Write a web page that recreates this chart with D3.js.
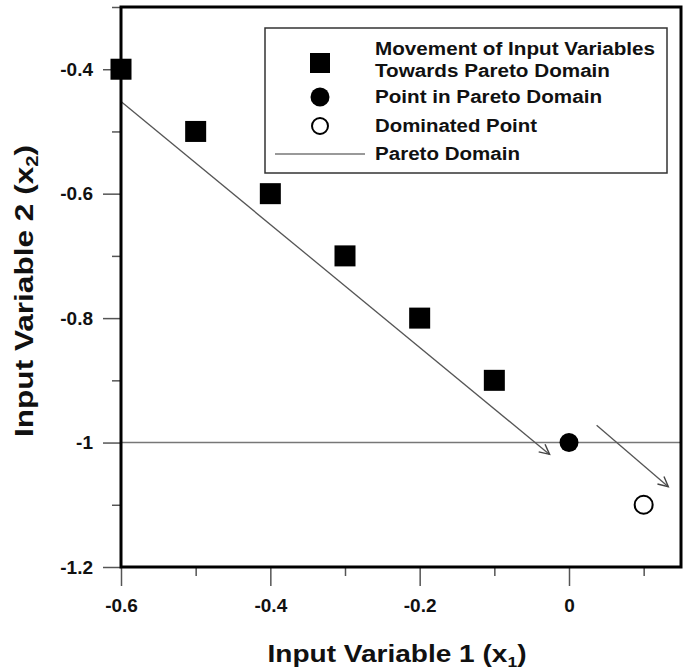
<!DOCTYPE html>
<html>
<head>
<meta charset="utf-8">
<script src="https://cdn.jsdelivr.net/npm/d3@7"></script>
<style>
  html, body { margin: 0; padding: 0; background: #fff; }
  svg { display: block; font-family: "Liberation Sans", Arial, sans-serif; }
</style>
</head>
<body>
<svg id="chart" width="683" height="672"></svg>
<script>
// ---- data ----
const movementX = [-0.6, -0.5, -0.4, -0.3, -0.2, -0.1];
const movementY = [-0.4, -0.5, -0.6, -0.7, -0.8, -0.9];
const paretoPointX = [0];
const paretoPointY = [-1];
const dominatedX = [0.1];
const dominatedY = [-1.1];
const paretoDomainY = -1;
const arrowStartX = [-0.6, 0.037];
const arrowStartY = [-0.452, -0.972];
const arrowEndX = [-0.026, 0.133];
const arrowEndY = [-1.019, -1.071];
const xMajorTicks = [-0.6, -0.4, -0.2, 0];
const xMinorTicks = [-0.5, -0.3, -0.1, 0.1];
const xTickLabels = ["-0.6", "-0.4", "-0.2", "0"];
const yMajorTicks = [-0.4, -0.6, -0.8, -1, -1.2];
const yMinorTicks = [-0.3, -0.5, -0.7, -0.9, -1.1];
const yTickLabels = ["-0.4", "-0.6", "-0.8", "-1", "-1.2"];
const legendLabels = [["Movement of Input Variables", "Towards Pareto Domain"], ["Point in Pareto Domain"], ["Dominated Point"], ["Pareto Domain"]];

// ---- layout ----
const margin = {left: 121, top: 7};
const W = 560, H = 560;
const svg = d3.select("#chart");
const g = svg.append("g").attr("transform", `translate(${margin.left},${margin.top})`);

const x = d3.scaleLinear().domain([-0.6, 0.15]).range([0, W]);
const y = d3.scaleLinear().domain([-1.2, -0.3]).range([H, 0]);

const tickColor = "#555";

// minor ticks
g.append("g").attr("transform", `translate(0,${H})`)
  .call(d3.axisBottom(x).tickValues(xMinorTicks).tickSize(9).tickFormat(""))
  .call(a => { a.select(".domain").remove(); a.selectAll("line").attr("stroke", tickColor).attr("stroke-width", 1.5); });
g.append("g")
  .call(d3.axisLeft(y).tickValues(yMinorTicks).tickSize(9).tickFormat(""))
  .call(a => { a.select(".domain").remove(); a.selectAll("line").attr("stroke", tickColor).attr("stroke-width", 1.5); });

// major ticks
g.append("g").attr("transform", `translate(0,${H})`)
  .call(d3.axisBottom(x).tickValues(xMajorTicks).tickSize(19).tickPadding(13)
        .tickFormat((d, i) => xTickLabels[i]))
  .call(a => {
    a.select(".domain").remove();
    a.selectAll("line").attr("stroke", tickColor).attr("stroke-width", 1.5);
    a.selectAll("text").attr("font-size", 19).attr("font-weight", "bold")
      .attr("fill", "#111").attr("font-family", "Liberation Sans, Arial, sans-serif");
  });
g.append("g")
  .call(d3.axisLeft(y).tickValues(yMajorTicks).tickSize(18).tickPadding(10)
        .tickFormat((d, i) => yTickLabels[i]))
  .call(a => {
    a.select(".domain").remove();
    a.selectAll("line").attr("stroke", tickColor).attr("stroke-width", 1.5);
    a.selectAll("text").attr("font-size", 19).attr("font-weight", "bold")
      .attr("fill", "#111").attr("font-family", "Liberation Sans, Arial, sans-serif");
  });

// pareto domain horizontal line
g.append("line")
  .attr("x1", x(-0.6)).attr("x2", x(0.15))
  .attr("y1", y(paretoDomainY)).attr("y2", y(paretoDomainY))
  .attr("stroke", "#777").attr("stroke-width", 1.5);

// arrow marker
svg.append("defs").append("marker")
  .attr("id", "arrow").attr("markerUnits", "userSpaceOnUse")
  .attr("viewBox", "-12 -7 14 14").attr("refX", 0).attr("refY", 0)
  .attr("markerWidth", 14).attr("markerHeight", 14).attr("orient", "auto")
  .append("path").attr("d", "M-10,-5 L0,0 L-10,5")
  .attr("fill", "none").attr("stroke", "#444").attr("stroke-width", 1.4);

arrowStartX.forEach((sx, i) => {
  g.append("line")
    .attr("x1", x(sx)).attr("y1", y(arrowStartY[i]))
    .attr("x2", x(arrowEndX[i])).attr("y2", y(arrowEndY[i]))
    .attr("stroke", "#555").attr("stroke-width", 1.3)
    .attr("marker-end", "url(#arrow)");
});

// frame
g.append("rect").attr("x", 0).attr("y", 0).attr("width", W).attr("height", H)
  .attr("fill", "none").attr("stroke", "#000").attr("stroke-width", 3);

// squares
const sq = 21;
g.selectAll("rect.mv").data(movementX).join("rect").attr("class", "mv")
  .attr("x", (d) => x(d) - sq / 2).attr("y", (d, i) => y(movementY[i]) - sq / 2)
  .attr("width", sq).attr("height", sq).attr("fill", "#000");

// filled circle
g.selectAll("circle.pp").data(paretoPointX).join("circle").attr("class", "pp")
  .attr("cx", d => x(d)).attr("cy", (d, i) => y(paretoPointY[i])).attr("r", 9.5).attr("fill", "#000");

// open circle
g.selectAll("circle.dom").data(dominatedX).join("circle").attr("class", "dom")
  .attr("cx", d => x(d)).attr("cy", (d, i) => y(dominatedY[i])).attr("r", 9)
  .attr("fill", "#fff").attr("stroke", "#000").attr("stroke-width", 2);

// legend
const lg = svg.append("g");
lg.append("rect").attr("x", 265).attr("y", 28).attr("width", 402).attr("height", 145)
  .attr("fill", "#fff").attr("stroke", "#333").attr("stroke-width", 1.5);
lg.append("rect").attr("x", 310).attr("y", 53).attr("width", 20).attr("height", 20).attr("fill", "#000");
lg.append("circle").attr("cx", 320).attr("cy", 97).attr("r", 9.5).attr("fill", "#000");
lg.append("circle").attr("cx", 320).attr("cy", 126).attr("r", 8).attr("fill", "#fff")
  .attr("stroke", "#000").attr("stroke-width", 2);
lg.append("line").attr("x1", 275).attr("x2", 365).attr("y1", 154).attr("y2", 154)
  .attr("stroke", "#777").attr("stroke-width", 1.5);

const legendText = [
  {t: legendLabels[0][0], y: 55, w: 280},
  {t: legendLabels[0][1], y: 77, w: 235},
  {t: legendLabels[1][0], y: 103, w: 227},
  {t: legendLabels[2][0], y: 132, w: 162},
  {t: legendLabels[3][0], y: 160, w: 145}
];
legendText.forEach(d => {
  lg.append("text").attr("x", 375).attr("y", d.y).text(d.t)
    .attr("font-size", 17.5).attr("font-weight", "bold").attr("fill", "#111")
    .attr("textLength", d.w).attr("lengthAdjust", "spacingAndGlyphs");
});

// axis titles
const xt = svg.append("text").attr("x", 397).attr("y", 662)
  .attr("text-anchor", "middle").attr("font-size", 24).attr("font-weight", "bold").attr("fill", "#111")
  .attr("textLength", 259).attr("lengthAdjust", "spacingAndGlyphs");
xt.append("tspan").text("Input Variable 1 (x");
xt.append("tspan").attr("font-size", 15).attr("dy", 5).text("1");
xt.append("tspan").attr("dy", -5).text(")");

const yt = svg.append("text").attr("transform", "translate(33,291) rotate(-90)")
  .attr("text-anchor", "middle").attr("font-size", 25).attr("font-weight", "bold").attr("fill", "#111")
  .attr("textLength", 292).attr("lengthAdjust", "spacingAndGlyphs");
yt.append("tspan").text("Input Variable 2 (x");
yt.append("tspan").attr("font-size", 16).attr("dy", 5).text("2");
yt.append("tspan").attr("dy", -5).text(")");
</script>
</body>
</html>
